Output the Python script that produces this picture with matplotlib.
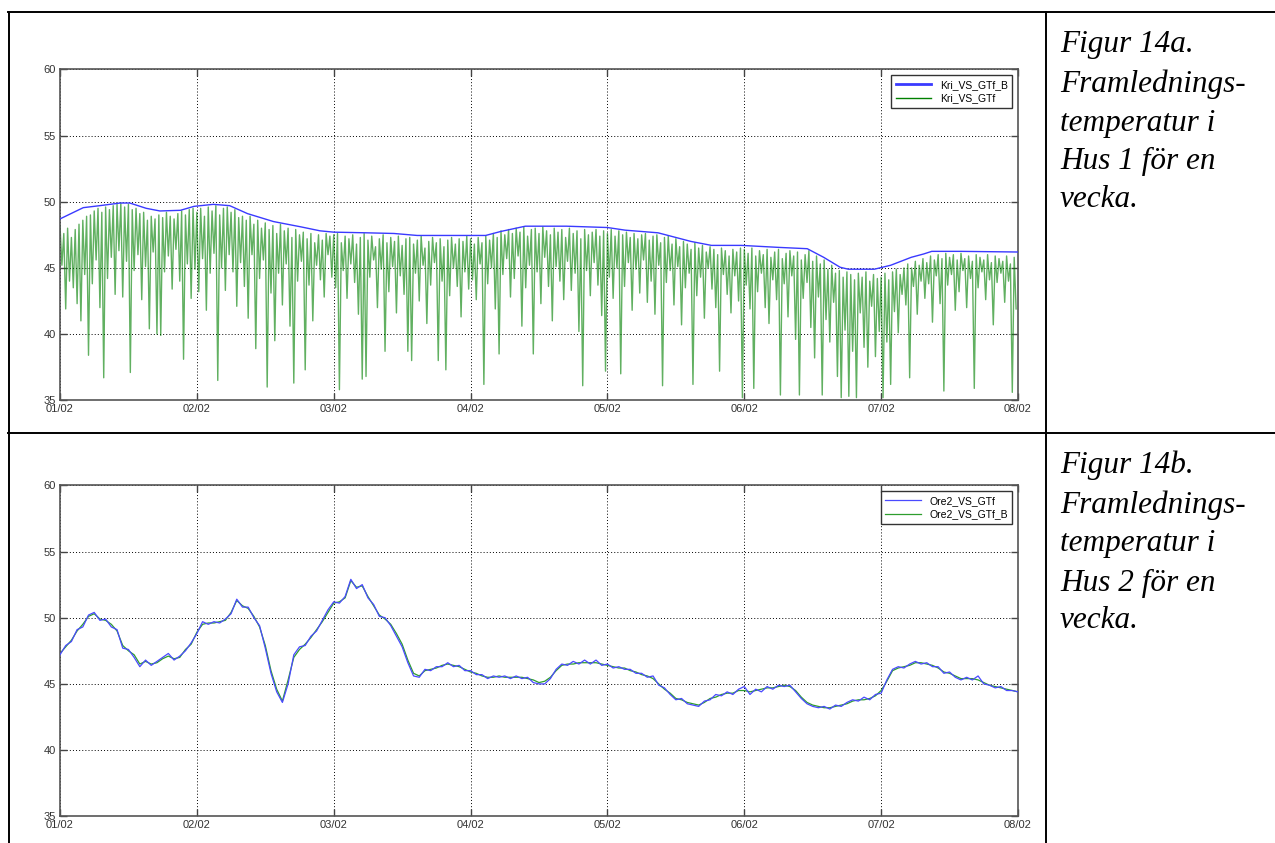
import numpy as np
import matplotlib.pyplot as plt
from matplotlib.lines import Line2D

# ---- data -------------------------------------------------------------
day_labels = ['01/02', '02/02', '03/02', '04/02', '05/02', '06/02', '07/02', '08/02']

# Hus 1: setpoint curve (day, degC)
kri_b_day = [0.0, 0.17, 0.29, 0.44, 0.51, 0.63, 0.73, 0.88, 0.98, 1.12, 1.24, 1.37,
             1.56, 1.76, 1.90, 2.0, 2.24, 2.44, 2.61, 2.79, 3.11, 3.22, 3.40, 3.70,
             4.0, 4.13, 4.37, 4.61, 4.76, 4.98, 5.25, 5.46, 5.58, 5.70, 5.76, 5.95,
             6.07, 6.22, 6.31, 6.37, 6.58, 7.0]
kri_b_val = [48.7, 49.55, 49.7, 49.9, 49.9, 49.5, 49.3, 49.35, 49.65, 49.8, 49.7, 49.1,
             48.5, 48.1, 47.8, 47.7, 47.65, 47.6, 47.45, 47.45, 47.45, 47.75, 48.15, 48.15,
             48.05, 47.85, 47.65, 47.0, 46.7, 46.7, 46.55, 46.45, 45.8, 45.05, 44.9, 44.9,
             45.2, 45.8, 46.05, 46.25, 46.25, 46.2]

# Hus 1: measured supply temperature, 20 min samples, peaks and dips per cycle
kri_hi = [
    48.2, 47.6, 48.0, 47.3, 47.9, 48.3, 48.6, 48.9, 49.0, 49.3, 49.5, 49.2, 49.6, 49.4, 49.7, 49.8, 49.9, 49.6,
    49.8, 49.4, 49.5, 49.1, 49.2, 48.6, 48.9, 48.7, 49.0, 48.8, 49.2, 48.9, 48.7, 49.1, 49.3, 49.0, 49.4, 49.5,
    49.2, 49.5, 48.9, 49.6, 49.3, 49.7, 49.0, 49.5, 49.6, 49.2, 49.4, 48.8, 48.9, 48.6, 48.9, 48.3, 48.6, 48.0,
    48.4, 47.9, 48.2, 47.6, 48.3, 47.8, 48.0, 47.3, 47.9, 47.5, 47.7, 47.2, 47.6, 46.9, 47.5, 47.1, 47.6, 47.4,
    47.5, 47.6, 46.9, 47.4, 47.2, 47.5, 46.8, 47.3, 47.6, 47.1, 47.4, 46.6, 47.2, 47.5, 46.9, 47.3, 47.0, 47.4,
    46.7, 47.2, 47.3, 46.8, 47.1, 47.4, 46.5, 47.0, 47.3, 46.9, 47.2, 46.6, 47.1, 47.3, 46.8, 47.2, 47.0, 47.4,
    47.2, 46.8, 47.3, 46.9, 47.4, 47.1, 47.6, 47.3, 47.8, 47.5, 47.9, 47.6, 48.0, 47.7, 48.1, 47.4, 47.9, 48.0,
    47.6, 48.1, 47.8, 47.5, 48.0, 47.7, 47.9, 47.3, 48.0, 47.6, 47.8, 47.2, 47.9, 47.5, 47.7, 47.9, 47.4, 47.8,
    47.6, 47.9, 47.4, 47.8, 47.5, 47.7, 47.3, 47.6, 47.2, 47.5, 47.6, 47.1, 47.4, 47.5, 46.9, 47.3, 47.4, 46.8,
    47.2, 46.6, 47.0, 46.8, 46.4, 46.9, 46.5, 46.7, 46.2, 46.6, 46.4, 46.0, 46.5, 46.3, 45.9, 46.4, 46.2, 46.5,
    46.4, 46.1, 46.5, 45.9, 46.3, 46.0, 46.4, 45.8, 46.2, 46.4, 45.7, 46.1, 46.3, 45.9, 46.2, 45.6, 46.0, 46.3,
    45.5, 45.9, 45.3, 45.6, 44.9, 45.2, 44.6, 44.8, 44.3, 44.7, 44.5, 44.1, 44.6, 44.3, 44.7, 44.0, 44.5, 44.2,
    44.3, 44.6, 44.1, 44.7, 44.9, 44.5, 45.0, 45.3, 45.0, 45.5, 45.2, 45.7, 45.4, 45.9, 45.6, 46.0, 45.7, 46.1,
    45.8, 46.0, 45.6, 46.1, 45.7, 45.9, 45.5, 46.0, 45.8, 45.6, 46.0, 45.4, 45.9, 45.7, 45.5, 45.9, 45.3, 45.8]
kri_lo = [
    45.2, 41.9, 44.0, 43.5, 42.3, 41.0, 44.5, 38.4, 43.8, 45.6, 42.0, 36.7, 44.2, 45.8, 43.0, 46.3, 42.8, 45.5,
    37.1, 44.8, 46.0, 42.6, 45.1, 40.4, 46.2, 40.0, 39.9, 44.7, 45.9, 43.4, 46.4, 44.0, 38.1, 45.3, 42.7, 44.9,
    43.2, 45.7, 41.8, 44.6, 46.1, 36.5, 45.0, 43.3, 46.0, 44.7, 42.1, 45.4, 43.6, 41.2, 46.0, 38.9, 44.2, 45.6,
    36.0, 43.1, 39.5, 44.6, 42.2, 45.3, 40.6, 36.3, 44.0, 45.5, 37.3, 43.7, 41.0, 45.2, 44.1, 42.8, 46.0, 44.3,
    43.5, 35.8, 44.8, 42.7, 45.3, 43.9, 41.5, 36.6, 36.8, 44.3, 45.6, 42.0, 44.9, 38.7, 43.2, 45.1, 41.6, 44.4,
    43.0, 38.7, 38.0, 44.6, 42.5, 45.2, 40.8, 43.7, 45.4, 38.0, 44.0, 37.3, 42.9, 45.0, 43.6, 41.3, 44.7, 43.4,
    44.1, 42.6, 45.3, 36.2, 43.8, 45.0, 41.9, 38.5, 44.5, 45.7, 42.8, 44.2, 45.9, 40.6, 43.5, 45.2, 38.5, 44.7,
    42.3, 45.8, 43.6, 41.0, 45.1, 44.0, 42.6, 45.5, 43.3, 44.6, 40.2, 36.1, 44.8, 42.9, 45.4, 43.7, 41.4, 37.2,
    44.3, 42.7, 45.0, 37.0, 43.6, 45.4, 41.8, 44.9, 43.1, 45.6, 42.4, 44.0, 41.5, 45.2, 36.1, 43.9, 44.8, 42.2,
    45.1, 40.7, 43.5, 44.6, 36.2, 42.9, 44.3, 41.2, 45.0, 43.4, 42.0, 37.2, 44.5, 43.0, 41.6, 44.4, 42.5, 35.2,
    43.7, 41.9, 35.9, 43.2, 44.6, 42.0, 40.8, 44.1, 42.6, 35.4, 43.8, 41.3, 44.4, 39.6, 35.4, 42.7, 43.9, 40.5,
    38.2, 42.8, 35.4, 41.1, 39.4, 42.4, 36.8, 35.2, 40.3, 35.3, 38.7, 35.2, 41.6, 39.0, 37.5, 42.1, 38.3, 40.2,
    35.2, 39.4, 36.2, 41.7, 40.1, 43.0, 42.2, 36.7, 43.6, 41.5, 44.0, 42.7, 43.8, 40.9, 44.4, 42.3, 35.7, 43.7,
    44.5, 41.8, 43.2, 44.8, 42.0, 44.2, 35.9, 43.5, 44.7, 42.6, 44.1, 40.7, 43.9, 44.6, 42.4, 44.0, 35.6, 41.9]

# Hus 2: hourly values
ore_gtf = [
    47.2, 47.9, 48.2, 49.1, 49.3, 50.2, 50.4, 49.8, 49.9, 49.3, 49.1, 47.7, 47.6, 47.0, 46.3, 46.8, 46.4, 46.7, 47.0, 47.3, 46.8, 47.1, 47.5, 48.1,
    48.8, 49.7, 49.5, 49.7, 49.6, 49.9, 50.3, 51.4, 50.8, 50.8, 50.0, 49.4, 47.7, 45.8, 44.4, 43.6, 45.0, 47.2, 47.8, 47.9, 48.6, 49.0, 49.8, 50.6,
    51.2, 51.1, 51.6, 52.9, 52.2, 52.5, 51.5, 51.0, 50.1, 50.0, 49.4, 48.6, 47.8, 46.6, 45.6, 45.5, 46.1, 46.0, 46.3, 46.3, 46.6, 46.3, 46.4, 46.0,
    46.0, 45.7, 45.7, 45.4, 45.6, 45.5, 45.6, 45.4, 45.6, 45.4, 45.5, 45.1, 45.0, 45.0, 45.4, 46.1, 46.5, 46.4, 46.7, 46.5, 46.8, 46.5, 46.8, 46.4,
    46.5, 46.2, 46.3, 46.1, 46.1, 45.8, 45.8, 45.5, 45.6, 44.9, 44.7, 44.2, 43.8, 43.9, 43.5, 43.4, 43.3, 43.7, 43.8, 44.2, 44.1, 44.4, 44.2, 44.6,
    44.8, 44.2, 44.6, 44.4, 44.8, 44.6, 44.9, 44.8, 44.9, 44.4, 43.9, 43.5, 43.3, 43.2, 43.3, 43.1, 43.4, 43.3, 43.6, 43.8, 43.7, 44.0, 43.8, 44.2,
    44.3, 45.3, 46.1, 46.3, 46.2, 46.5, 46.7, 46.5, 46.6, 46.3, 46.3, 45.8, 45.9, 45.5, 45.3, 45.5, 45.3, 45.6, 45.0, 44.9, 44.7, 44.8, 44.5, 44.5, 44.4]
ore_gtf_b = [
    47.3, 47.8, 48.3, 49.0, 49.5, 50.1, 50.3, 49.9, 49.8, 49.5, 49.0, 47.9, 47.5, 47.2, 46.5, 46.7, 46.5, 46.6, 46.9, 47.1, 46.9, 47.0, 47.6, 48.0,
    48.9, 49.5, 49.6, 49.6, 49.7, 49.8, 50.4, 51.3, 50.9, 50.7, 50.1, 49.3, 47.9, 46.0, 44.6, 43.7, 45.3, 47.0, 47.6, 48.0, 48.5, 49.1, 49.7, 50.4,
    51.1, 51.2, 51.5, 52.8, 52.3, 52.4, 51.6, 50.9, 50.2, 49.9, 49.5, 48.8, 48.0, 46.8, 45.8, 45.6, 46.0, 46.1, 46.2, 46.4, 46.5, 46.4, 46.3, 46.1,
    45.9, 45.8, 45.6, 45.5, 45.5, 45.6, 45.5, 45.5, 45.5, 45.5, 45.4, 45.3, 45.1, 45.2, 45.5, 46.0, 46.4, 46.5, 46.5, 46.6, 46.6, 46.6, 46.6, 46.5,
    46.4, 46.3, 46.2, 46.2, 46.0, 45.9, 45.7, 45.6, 45.4, 45.0, 44.6, 44.3, 43.9, 43.8, 43.6, 43.5, 43.4, 43.6, 43.9, 44.0, 44.2, 44.3, 44.3, 44.5,
    44.5, 44.4, 44.5, 44.6, 44.7, 44.7, 44.8, 44.9, 44.8, 44.5, 44.0, 43.6, 43.4, 43.3, 43.2, 43.2, 43.3, 43.4, 43.5, 43.7, 43.8, 43.8, 43.9, 44.1,
    44.5, 45.2, 46.0, 46.2, 46.3, 46.4, 46.6, 46.6, 46.5, 46.4, 46.2, 45.9, 45.8, 45.6, 45.4, 45.4, 45.4, 45.3, 45.1, 44.9, 44.8, 44.7, 44.6, 44.5, 44.4]

captions = [
    ['Figur 14a.', 'Framlednings-', 'temperatur i', 'Hus 1 för en', 'vecka.'],
    ['Figur 14b.', 'Framlednings-', 'temperatur i', 'Hus 2 för en', 'vecka.'],
]

# ---- page layout (pixels) --------------------------------------------
W, H = 1275, 843
fig = plt.figure(figsize=(W / 100, H / 100), dpi=100)
fig.patch.set_facecolor('white')


def fx(px):
    return px / W


def fy(py):
    return 1 - py / H


tick_font = ['Liberation Sans Narrow', 'Liberation Sans', 'DejaVu Sans']


def matlab_axes(top_px):
    ax = fig.add_axes([fx(60), fy(top_px + 331), fx(1018) - fx(60), 331 / H])
    ax.set_xlim(0, 7)
    ax.set_ylim(35, 60)
    ax.set_xticks(range(8))
    ax.set_xticklabels(day_labels)
    ax.set_yticks(range(35, 61, 5))
    ax.grid(True, color='black', linestyle=(0, (1, 2.2)), linewidth=0.7)
    ax.tick_params(direction='in', top=True, right=True, length=5, width=1,
                   color='#444444', labelsize=8, labelcolor='#333333', pad=3)
    for lab in ax.get_xticklabels() + ax.get_yticklabels():
        lab.set_family(tick_font)
    for s in ax.spines.values():
        s.set_color('#555555')
        s.set_linewidth(1.2)
    return ax


def matlab_legend(ax):
    leg = ax.legend(loc='upper right', prop={'family': tick_font, 'size': 7.5},
                    fancybox=False, edgecolor='#333333', framealpha=1,
                    borderaxespad=0.55, handlelength=3.4, labelspacing=0.35,
                    borderpad=0.45)
    leg.get_frame().set_linewidth(1.0)
    return leg


# Hus 1
ax1 = matlab_axes(69.3)
t1 = np.arange(2 * len(kri_hi)) / 72.0
kri = np.column_stack([kri_hi, kri_lo]).ravel()
ax1.plot(kri_b_day, kri_b_val, color='#3a3aff', lw=1.0, label='Kri_VS_GTf_B', zorder=3)
ax1.plot(t1, kri, color='#008000', lw=1.0, alpha=0.62, label='Kri_VS_GTf', zorder=2)
leg1 = matlab_legend(ax1)
for h in leg1.get_lines():
    h.set_alpha(1)
leg1.get_lines()[0].set_linewidth(2)

# Hus 2
ax2 = matlab_axes(485.3)
t2 = np.arange(len(ore_gtf)) / 24.0
ax2.plot(t2, ore_gtf, color='#4a4aff', lw=0.9, label='Ore2_VS_GTf', zorder=3)
ax2.plot(t2, ore_gtf_b, color='#2e9e2e', lw=0.9, label='Ore2_VS_GTf_B', zorder=2)
matlab_legend(ax2)

# table borders
border = dict(color='black', lw=1.4, transform=fig.transFigure)
fig.add_artist(Line2D([fx(8), 1], [fy(12), fy(12)], **border))
fig.add_artist(Line2D([fx(8), 1], [fy(433), fy(433)], **border))
fig.add_artist(Line2D([fx(9), fx(9)], [fy(12), 0], **border))
fig.add_artist(Line2D([fx(1046), fx(1046)], [fy(12), 0], **border))

# captions in the right column
baselines = [51.7, 91.7, 130.5, 169.5, 207.0]
for row, lines in enumerate(captions):
    off = 421 * row
    for txt, b in zip(lines, baselines):
        fig.text(fx(1060), fy(b + off), txt, family='Liberation Serif', style='italic',
                 fontsize=22.5, va='baseline', ha='left', color='black')

fig.savefig('out.png', dpi=100)
